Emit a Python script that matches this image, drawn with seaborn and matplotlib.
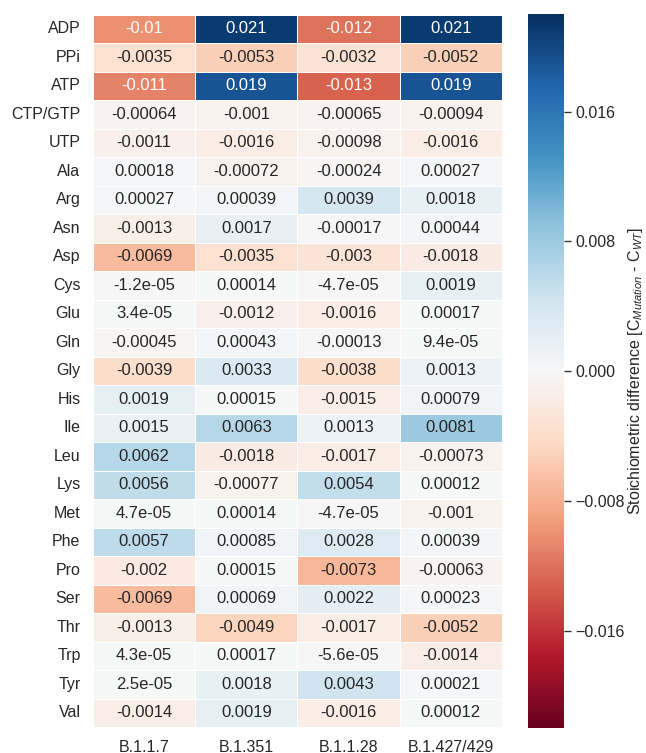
import numpy as np
import pandas as pd
import matplotlib
matplotlib.use("Agg")
import matplotlib.pyplot as plt
import seaborn as sns

# Строки и столбцы тепловой карты
metabolites = ["ADP", "PPi", "ATP", "CTP/GTP", "UTP", "Ala", "Arg", "Asn", "Asp", "Cys",
               "Glu", "Gln", "Gly", "His", "Ile", "Leu", "Lys", "Met", "Phe", "Pro",
               "Ser", "Thr", "Trp", "Tyr", "Val"]
variants = ["B.1.1.7", "B.1.351", "B.1.1.28", "B.1.427/429"]

b117 = [-0.01, -0.0035, -0.011, -0.00064, -0.0011, 0.00018, 0.00027, -0.0013, -0.0069, -1.2e-05,
        3.4e-05, -0.00045, -0.0039, 0.0019, 0.0015, 0.0062, 0.0056, 4.7e-05, 0.0057, -0.002,
        -0.0069, -0.0013, 4.3e-05, 2.5e-05, -0.0014]
b1351 = [0.021, -0.0053, 0.019, -0.001, -0.0016, -0.00072, 0.00039, 0.0017, -0.0035, 0.00014,
         -0.0012, 0.00043, 0.0033, 0.00015, 0.0063, -0.0018, -0.00077, 0.00014, 0.00085, 0.00015,
         0.00069, -0.0049, 0.00017, 0.0018, 0.0019]
b1128 = [-0.012, -0.0032, -0.013, -0.00065, -0.00098, -0.00024, 0.0039, -0.00017, -0.003, -4.7e-05,
         -0.0016, -0.00013, -0.0038, -0.0015, 0.0013, -0.0017, 0.0054, -4.7e-05, 0.0028, -0.0073,
         0.0022, -0.0017, -5.6e-05, 0.0043, -0.0016]
b1427 = [0.021, -0.0052, 0.019, -0.00094, -0.0016, 0.00027, 0.0018, 0.00044, -0.0018, 0.0019,
         0.00017, 9.4e-05, 0.0013, 0.00079, 0.0081, -0.00073, 0.00012, -0.001, 0.00039, -0.00063,
         0.00023, -0.0052, -0.0014, 0.00021, 0.00012]

df = pd.DataFrame({variants[0]: b117, variants[1]: b1351,
                   variants[2]: b1128, variants[3]: b1427}, index=metabolites)

sns.set_theme(style="white")
plt.rcParams["font.family"] = ["Liberation Sans", "DejaVu Sans"]
plt.rcParams["mathtext.fontset"] = "custom"
plt.rcParams["mathtext.rm"] = "Liberation Sans"
plt.rcParams["mathtext.it"] = "Liberation Sans:italic"

fig = plt.figure(figsize=(6.46, 7.53), dpi=100)
ax = fig.add_axes([0.144, 0.0345, 0.633, 0.946])
cax = fig.add_axes([0.817, 0.033, 0.056, 0.948])

sns.heatmap(df, ax=ax, cbar_ax=cax, cmap="RdBu", center=0, vmin=-0.022, vmax=0.022,
            annot=True, annot_kws={"size": 12}, linewidths=0.5, linecolor="white")

ax.tick_params(axis="both", length=0, pad=9, labelsize=11.5)
ax.set_yticklabels(ax.get_yticklabels(), rotation=0)
ax.set_xticklabels(ax.get_xticklabels(), rotation=0)
ax.set_xlabel("")
ax.set_ylabel("")

cax.set_yticks([-0.016, -0.008, 0.0, 0.008, 0.016])
cax.set_yticklabels(["\u22120.016", "\u22120.008", "0.000", "0.008", "0.016"])
cax.tick_params(axis="y", length=5, width=1, color="#333333", labelsize=11.5, pad=3, right=True)
cax.set_ylabel("Stoichiometric difference [C$_{Mutation}$ - C$_{WT}$]", fontsize=11.5, labelpad=1)

plt.savefig("out.png", dpi=100)
